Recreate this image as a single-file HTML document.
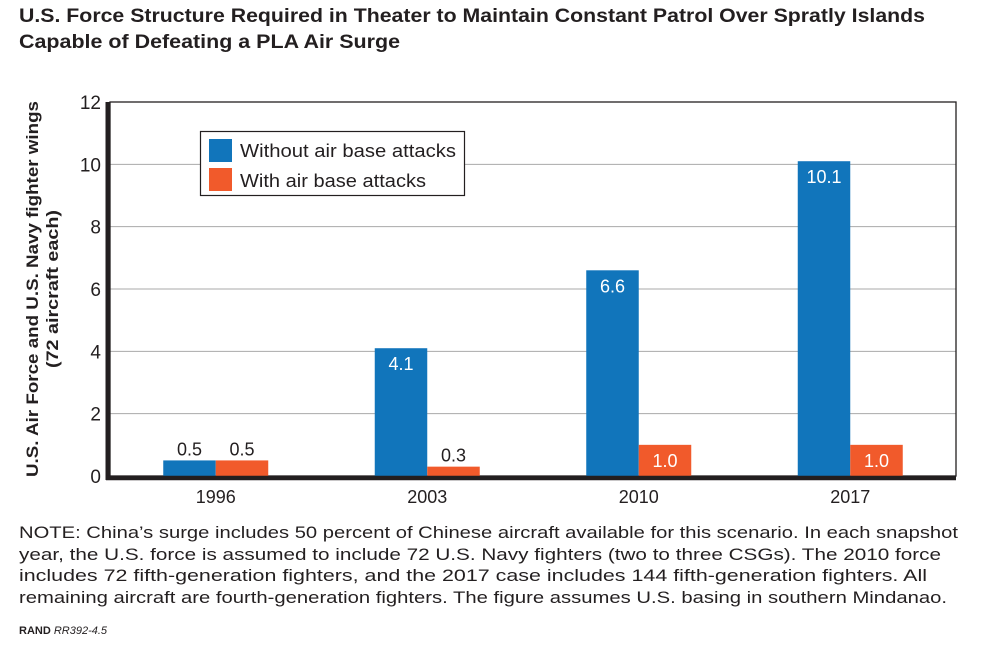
<!DOCTYPE html>
<html><head><meta charset="utf-8"><style>
body{margin:0;background:#fff;font-family:"Liberation Sans",sans-serif;color:#231f20}
#wrap{position:relative;width:988px;height:652px;overflow:hidden}
.ln{position:absolute;left:19px;white-space:nowrap;transform-origin:0 0}
.t{font-weight:bold;font-size:19px;line-height:26px}
.n{font-size:17px;line-height:21.5px}
.src{position:absolute;left:19px;top:625px;font-size:11px}
</style></head><body><div id="wrap">
<div>
<div class="ln t fit" data-w="906" style="top:4px">U.S. Force Structure Required in Theater to Maintain Constant Patrol Over Spratly Islands</div>
<div class="ln t fit" data-w="381" style="top:30px">Capable of Defeating a PLA Air Surge</div>
</div>
<svg id="chart" width="988" height="652" style="position:absolute;left:0;top:0"></svg>
<div>
<div class="ln n fit" data-w="939" style="top:522px">NOTE: China’s surge includes 50 percent of Chinese aircraft available for this scenario. In each snapshot</div>
<div class="ln n fit" data-w="922" style="top:544px">year, the U.S. force is assumed to include 72 U.S. Navy fighters (two to three CSGs). The 2010 force</div>
<div class="ln n fit" data-w="908" style="top:565px">includes 72 fifth-generation fighters, and the 2017 case includes 144 fifth-generation fighters. All</div>
<div class="ln n fit" data-w="928" style="top:587px">remaining aircraft are fourth-generation fighters. The figure assumes U.S. basing in southern Mindanao.</div>
</div>
<div class="src"><b>RAND</b> <i>RR392-4.5</i></div>
</div>
<script>
const categories=["1996","2003","2010","2017"];
const withoutAttacks=[0.5,4.1,6.6,10.1];
const withAttacks=[0.5,0.3,1.0,1.0];
const yTicks=[0,2,4,6,8,10,12];
const seriesNames=["Without air base attacks","With air base attacks"];
const colors=["#1175bb","#f15a2b"];
document.querySelectorAll('.fit').forEach(e=>{const w=e.getBoundingClientRect().width;e.style.transform='scaleX('+(+e.dataset.w/w)+')';});
const svg=document.getElementById('chart');const NS="http://www.w3.org/2000/svg";
const L=110,R=956,T=102,B=476;
const y=v=>B-(v/12)*(B-T);
const cx=i=>L+(R-L)/categories.length*(i+0.5);
const bw=52.5;
function mk(tag,a,txt){const e=document.createElementNS(NS,tag);for(const k in a)e.setAttribute(k,a[k]);if(txt!==undefined)e.textContent=txt;svg.appendChild(e);return e;}
yTicks.forEach(v=>{
 if(v>0&&v<12){const g=mk('line',{x1:L,x2:R,y1:y(v),y2:y(v),stroke:'#aaa','stroke-width':1});
 
 }
 const t=mk('text',{x:101,y:y(v)+7,'text-anchor':'end','font-size':19,fill:'#231f20'},v);
 
 
});
const fr=mk('rect',{x:L,y:T,width:R-L,height:B-T,fill:'none',stroke:'#231f20','stroke-width':1.3});


[withoutAttacks,withAttacks].forEach((arr,s)=>{
 arr.forEach((v,i)=>{
  const x=cx(i)+(s===0?-bw:0);
  const r=mk('rect',{x:x,y:y(v),width:bw,height:B-y(v),fill:colors[s]});
  
  
  const inside=v>=0.9;
  const lbl=mk('text',{x:x+bw/2,y:inside?y(v)+22:y(v)-5,'text-anchor':'middle','font-size':18,fill:inside?'#fff':'#231f20'},v.toFixed(1));
  
  
 });
});
categories.forEach((c,i)=>{const t=mk('text',{x:cx(i),y:503,'text-anchor':'middle','font-size':18,fill:'#231f20'},c);
 
 });
const ya=mk('line',{x1:L-2,x2:L-2,y1:T,y2:B+4,stroke:'#231f20','stroke-width':5});


const xa=mk('line',{x1:L-4,x2:R,y1:B+2,y2:B+2,stroke:'#231f20','stroke-width':4.5});


const yt=mk('text',{transform:'translate(38,289) rotate(-90)','text-anchor':'middle','font-size':17,'font-weight':'bold',fill:'#231f20'});


const t1=document.createElementNS(NS,'tspan');t1.setAttribute('x',0);t1.setAttribute('y',0);t1.setAttribute('textLength',376);t1.setAttribute('lengthAdjust','spacingAndGlyphs');t1.textContent='U.S. Air Force and U.S. Navy fighter wings';yt.appendChild(t1);
const t2=document.createElementNS(NS,'tspan');t2.setAttribute('x',0);t2.setAttribute('y',20);t2.setAttribute('textLength',158);t2.setAttribute('lengthAdjust','spacingAndGlyphs');t2.textContent='(72 aircraft each)';yt.appendChild(t2);
const lg=mk('rect',{x:200.5,y:131.5,width:264,height:64,fill:'#fff',stroke:'#231f20','stroke-width':1.2});


const legLen=[216,186];
seriesNames.forEach((n,s)=>{
 const sw=mk('rect',{x:209,y:139+s*29,width:23,height:23,fill:colors[s]});
 
 
 const tx=mk('text',{x:240,y:157+s*30,'font-size':18,fill:'#231f20',textLength:legLen[s],lengthAdjust:'spacingAndGlyphs'},n);
 
 
});
</script></body></html>
